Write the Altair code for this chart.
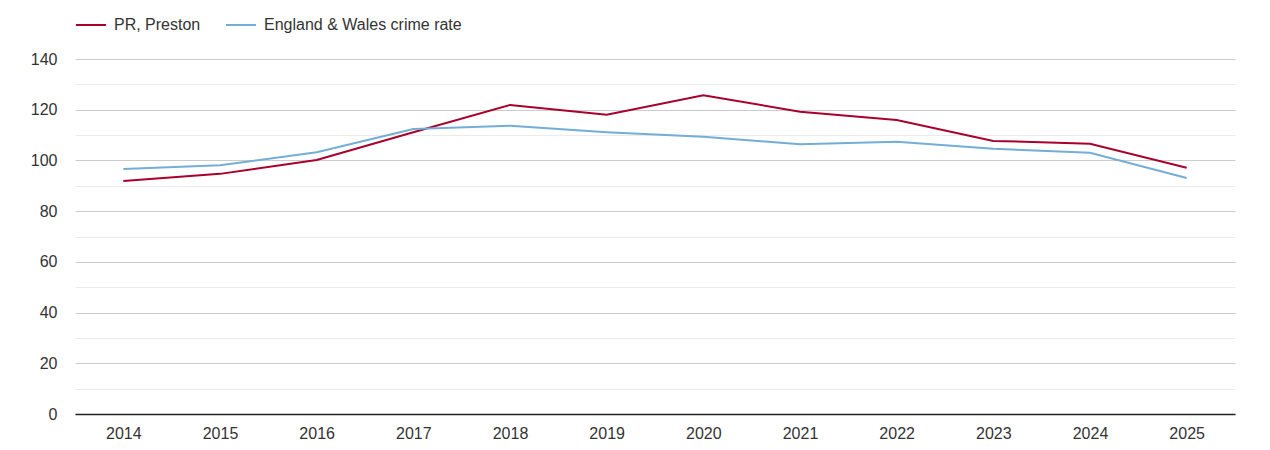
import altair as alt
import pandas as pd

years = [str(y) for y in range(2014, 2026)]
preston = [91.9, 94.7, 100.2, 111.1, 121.9, 118.0, 125.7, 119.2, 115.9, 107.7, 106.6, 97.1]
england_wales = [96.6, 98.1, 103.2, 112.4, 113.7, 111.1, 109.3, 106.4, 107.4, 104.6, 103.0, 93.1]
series_names = ["PR, Preston", "England & Wales crime rate"]
series_colors = ["#a8002d", "#74add6"]

rows = []
for y, v in zip(years, preston):
    rows.append({"year": y, "value": v, "series": series_names[0]})
for y, v in zip(years, england_wales):
    rows.append({"year": y, "value": v, "series": series_names[1]})
df = pd.DataFrame(rows)

FONT = "Liberation Sans"
TXT = "#333333"

chart = alt.Chart(df).mark_line(strokeWidth=2).encode(
    x=alt.X("year:O", sort=years,
            scale=alt.Scale(type="point", padding=0.5),
            axis=alt.Axis(title=None, labelAngle=0, labelFontSize=16, labelColor=TXT,
                          labelFont=FONT, ticks=False, domain=True, domainColor="#222",
                          domainWidth=1.5, labelPadding=11, grid=False)),
    y=alt.Y("value:Q",
            scale=alt.Scale(domain=[0, 140], nice=False),
            axis=alt.Axis(title=None, values=list(range(0, 150, 10)),
                          labelExpr="datum.value % 20 === 0 ? datum.label : ''",
                          labelFontSize=16, labelColor=TXT, labelFont=FONT,
                          ticks=False, domain=False, labelPadding=18,
                          gridColor={"condition": {"test": "datum.value % 20 === 0", "value": "#cccccc"},
                                     "value": "#ebebeb"},
                          gridWidth=1)),
    color=alt.Color("series:N",
                    scale=alt.Scale(domain=series_names, range=series_colors),
                    legend=alt.Legend(title=None, orient="none", legendX=0, legendY=-50,
                                      direction="horizontal", symbolType="stroke",
                                      symbolSize=900, symbolStrokeWidth=2,
                                      labelFontSize=16, labelColor=TXT, labelFont=FONT,
                                      labelOffset=7, columnPadding=21, labelLimit=0,
                                      symbolOffset=0)),
).properties(
    width=1160, height=355,
    autosize=alt.AutoSizeParams(type="none"),
    padding={"left": 67, "top": 51, "right": 27, "bottom": 28},
).configure_view(stroke=None)

chart.save("out.html", embed_options={"renderer": "svg", "actions": False})
